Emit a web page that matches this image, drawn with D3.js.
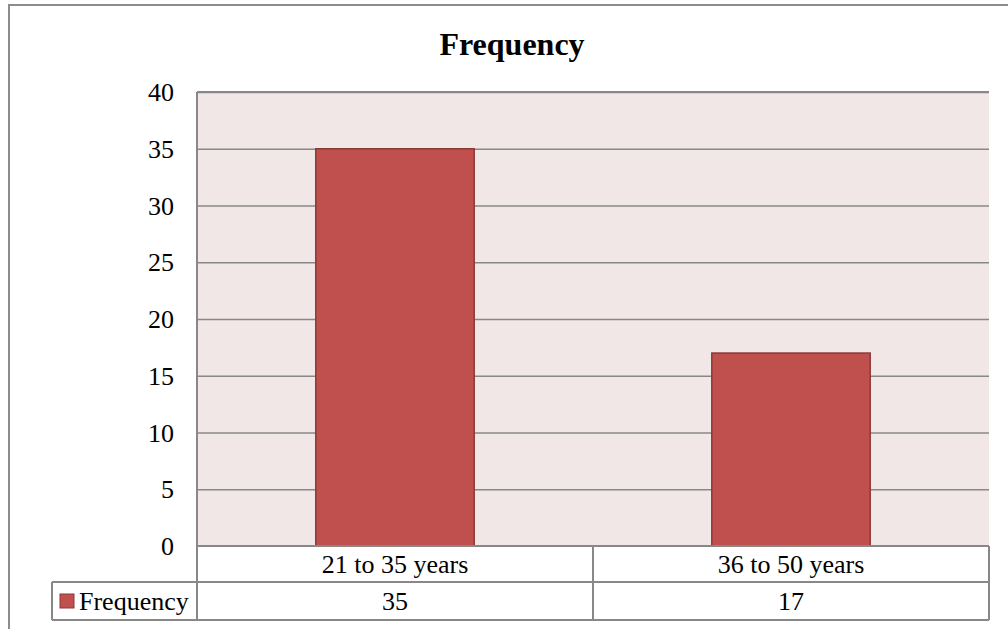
<!DOCTYPE html>
<html>
<head>
<meta charset="utf-8">
<script src="https://cdn.jsdelivr.net/npm/d3@7/dist/d3.min.js"></script>
<style>
  body { margin: 0; background: #fff; }
  text { font-family: "Liberation Serif", "Times New Roman", serif; fill: #000; }
  .grid line { stroke: #888; stroke-width: 1.5; }
  .grid path { display: none; }
  .tbl { stroke: #888; stroke-width: 2; fill: none; }
</style>
</head>
<body>
<svg id="chart" width="1008" height="629"></svg>
<script>
var categories = ["21 to 35 years", "36 to 50 years"];
var values = [35, 17];
var seriesName = "Frequency";
var yTicks = [0, 5, 10, 15, 20, 25, 30, 35, 40];

var plot = { left: 197, top: 92, right: 989, bottom: 546 };
var rowH = [36, 38];
var legendLeft = 52;

var svg = d3.select("#chart");

// outer frame (runs off the right and bottom edges)
svg.append("rect")
    .attr("x", 9).attr("y", 5)
    .attr("width", 1020).attr("height", 650)
    .attr("fill", "#fff").attr("stroke", "#8c8c8c").attr("stroke-width", 2);

svg.append("text")
    .attr("x", 512).attr("y", 55)
    .attr("text-anchor", "middle")
    .style("font-size", "32px").style("font-weight", "bold")
    .text("Frequency");

var x = d3.scaleBand()
    .domain(categories)
    .range([plot.left, plot.right]);

var y = d3.scaleLinear()
    .domain([0, 40])
    .range([plot.bottom, plot.top]);

svg.append("rect")
    .attr("x", plot.left).attr("y", plot.top)
    .attr("width", plot.right - plot.left).attr("height", plot.bottom - plot.top)
    .attr("fill", "#f2e7e7");

svg.append("g")
    .attr("class", "grid")
    .attr("transform", "translate(" + plot.left + ",0)")
    .call(d3.axisRight(y).tickValues(yTicks.slice(1)).tickSize(plot.right - plot.left).tickFormat(""));

// y labels
svg.selectAll(".ylab")
    .data(yTicks)
    .enter().append("text")
    .attr("class", "ylab")
    .attr("x", 174)
    .attr("y", function (d) { return y(d); })
    .attr("dy", "0.35em")
    .attr("text-anchor", "end")
    .style("font-size", "26px")
    .text(function (d) { return d; });

var barW = x.bandwidth() * 0.4;
svg.selectAll(".bar")
    .data(values)
    .enter().append("rect")
    .attr("class", "bar")
    .attr("x", function (d, i) { return x(categories[i]) + (x.bandwidth() - barW) / 2; })
    .attr("y", function (d) { return y(d); })
    .attr("width", barW)
    .attr("height", function (d) { return y(0) - y(d); })
    .attr("fill", "#c0504d")
    .attr("stroke", "#8c3835")
    .attr("stroke-width", 1.5);

// data table
var r1 = plot.bottom, r2 = r1 + rowH[0], r3 = r2 + rowH[1];
var t = svg.append("g").attr("class", "tbl");
t.append("line").attr("x1", plot.left).attr("x2", plot.left).attr("y1", plot.top).attr("y2", r3);
t.append("line").attr("x1", plot.left).attr("x2", plot.right).attr("y1", r1).attr("y2", r1);
t.append("line").attr("x1", legendLeft).attr("x2", plot.right).attr("y1", r2).attr("y2", r2);
t.append("line").attr("x1", legendLeft).attr("x2", plot.right).attr("y1", r3).attr("y2", r3);
t.append("line").attr("x1", legendLeft).attr("x2", legendLeft).attr("y1", r2).attr("y2", r3);
t.append("line").attr("x1", plot.right).attr("x2", plot.right).attr("y1", r1).attr("y2", r3);
categories.slice(1).forEach(function (c) {
    t.append("line").attr("x1", x(c)).attr("x2", x(c)).attr("y1", r1).attr("y2", r3);
});
t.append("line").attr("x1", plot.left).attr("x2", plot.right).attr("y1", plot.top).attr("y2", plot.top)
    .attr("stroke-width", 2);

svg.selectAll(".cat")
    .data(categories)
    .enter().append("text")
    .attr("x", function (d) { return x(d) + x.bandwidth() / 2; })
    .attr("y", (r1 + r2) / 2)
    .attr("dy", "0.35em")
    .attr("text-anchor", "middle")
    .style("font-size", "26px")
    .text(function (d) { return d; });

svg.selectAll(".val")
    .data(values)
    .enter().append("text")
    .attr("x", function (d, i) { return x(categories[i]) + x.bandwidth() / 2; })
    .attr("y", (r2 + r3) / 2)
    .attr("dy", "0.35em")
    .attr("text-anchor", "middle")
    .style("font-size", "26px")
    .text(function (d) { return d; });

// legend key in table
svg.append("rect")
    .attr("x", 60).attr("y", (r2 + r3) / 2 - 7)
    .attr("width", 14).attr("height", 14)
    .attr("fill", "#c0504d").attr("stroke", "#8c3835").attr("stroke-width", 1);
svg.append("text")
    .attr("x", 79).attr("y", (r2 + r3) / 2)
    .attr("dy", "0.35em")
    .style("font-size", "26px")
    .text(seriesName);
</script>
</body>
</html>
